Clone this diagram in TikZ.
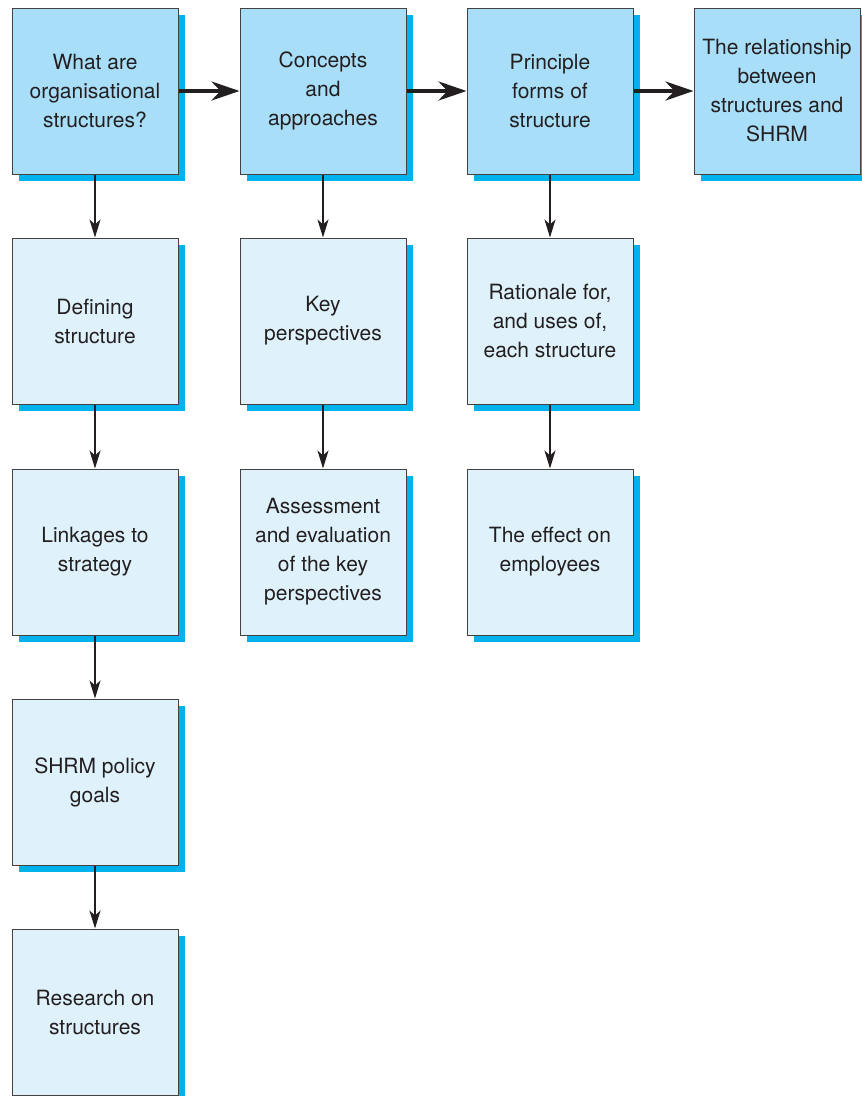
\documentclass[tikz,border=0pt]{standalone}
\usepackage{fontspec}
\setmainfont{TeX Gyre Heros}
\usetikzlibrary{arrows.meta,shadows}
\definecolor{topfill}{RGB}{169,222,249}
\definecolor{subfill}{RGB}{223,242,251}
\definecolor{shade}{RGB}{0,178,236}
\definecolor{ink}{RGB}{35,31,32}
\begin{document}
\begin{tikzpicture}[x=1pt,y=-1pt,
  box/.style={draw=ink!85, line width=1pt, minimum width=166pt, minimum height=166pt,
    inner sep=0pt, align=center, text=ink, font=\fontsize{21}{29}\selectfont,
    drop shadow={shadow xshift=7pt, shadow yshift=-7pt, fill=shade, opacity=1}},
  topbox/.style={box, fill=topfill},
  subbox/.style={box, fill=subfill},
  harrow/.style={draw=ink, line width=4pt, -{Stealth[length=28pt,width=19pt,inset=9pt]}},
  varrow/.style={draw=ink, line width=2pt, -{Stealth[length=18pt,width=11pt,inset=5pt]}}]
\useasboundingbox (0,0) rectangle (862,1096);

% top row: main topics
\node[topbox] (t1) at (95,91)  {What are\\organisational\\structures?};
\node[topbox] (t2) at (323,91) {Concepts\\and\\approaches};
\node[topbox] (t3) at (550,91) {Principle\\forms of\\structure};
\node[topbox] (t4) at (777,91) {The relationship\\between\\structures and\\SHRM};

% column 1
\node[subbox] (a1) at (95,321)  {Defining\\structure};
\node[subbox] (a2) at (95,552)  {Linkages to\\strategy};
\node[subbox] (a3) at (95,782)  {SHRM policy\\goals};
\node[subbox] (a4) at (95,1012) {Research on\\structures};

% column 2
\node[subbox] (b1) at (323,321) {Key\\perspectives};
\node[subbox] (b2) at (323,552) {Assessment\\and evaluation\\of the key\\perspectives};

% column 3
\node[subbox] (c1) at (550,321) {Rationale for,\\and uses of,\\each structure};
\node[subbox] (c2) at (550,552) {The effect on\\employees};

% connectors
\draw[harrow] (t1.east) -- (t2.west);
\draw[harrow] (t2.east) -- (t3.west);
\draw[harrow] (t3.east) -- (t4.west);

\draw[varrow] (t1.south) -- (a1.north);
\draw[varrow] (a1.south) -- (a2.north);
\draw[varrow] (a2.south) -- (a3.north);
\draw[varrow] (a3.south) -- (a4.north);

\draw[varrow] (t2.south) -- (b1.north);
\draw[varrow] (b1.south) -- (b2.north);

\draw[varrow] (t3.south) -- (c1.north);
\draw[varrow] (c1.south) -- (c2.north);
\end{tikzpicture}
\end{document}
